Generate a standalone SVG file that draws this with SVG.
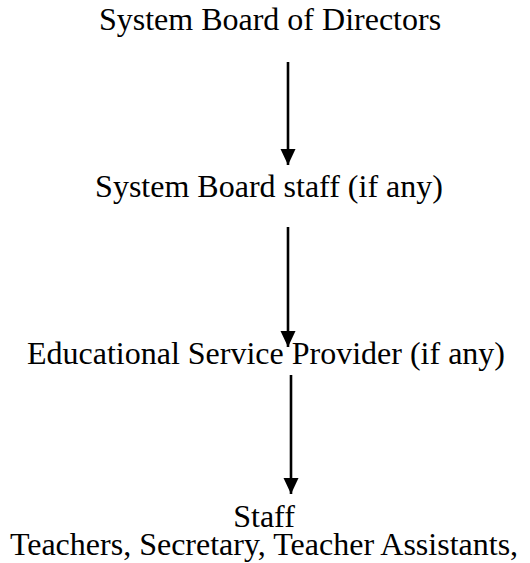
<svg xmlns="http://www.w3.org/2000/svg" width="530" height="563" viewBox="0 0 530 563">
<style>
.t{font-family:"Liberation Serif","Times New Roman",serif;font-size:32px;fill:#000;text-anchor:middle}
.c{stroke:#000;stroke-width:2.6;fill:none}
</style>
<defs>
<marker id="ah" markerUnits="userSpaceOnUse" markerWidth="16" markerHeight="18" refX="16" refY="7.5" orient="auto" viewBox="0 0 16 15">
<path d="M0,0 L16,7.5 L0,15 Z" fill="#000"/>
</marker>
</defs>
<rect width="530" height="563" fill="#fff"/>
<g id="n1"><text class="t" x="270" y="30">System Board of Directors</text></g>
<g id="n2"><text class="t" x="269" y="197">System Board staff (if any)</text></g>
<g id="n3"><text class="t" x="266" y="364">Educational Service Provider (if any)</text></g>
<g id="n4"><text class="t" x="264" y="527">Staff</text><text class="t" x="264" y="555">Teachers, Secretary, Teacher Assistants,</text></g>
<g id="connectors">
<line class="c" x1="288" y1="62" x2="288" y2="165" marker-end="url(#ah)"/>
<line class="c" x1="288" y1="227" x2="288" y2="347" marker-end="url(#ah)"/>
<line class="c" x1="291" y1="375" x2="291" y2="494" marker-end="url(#ah)"/>
</g>
</svg>
